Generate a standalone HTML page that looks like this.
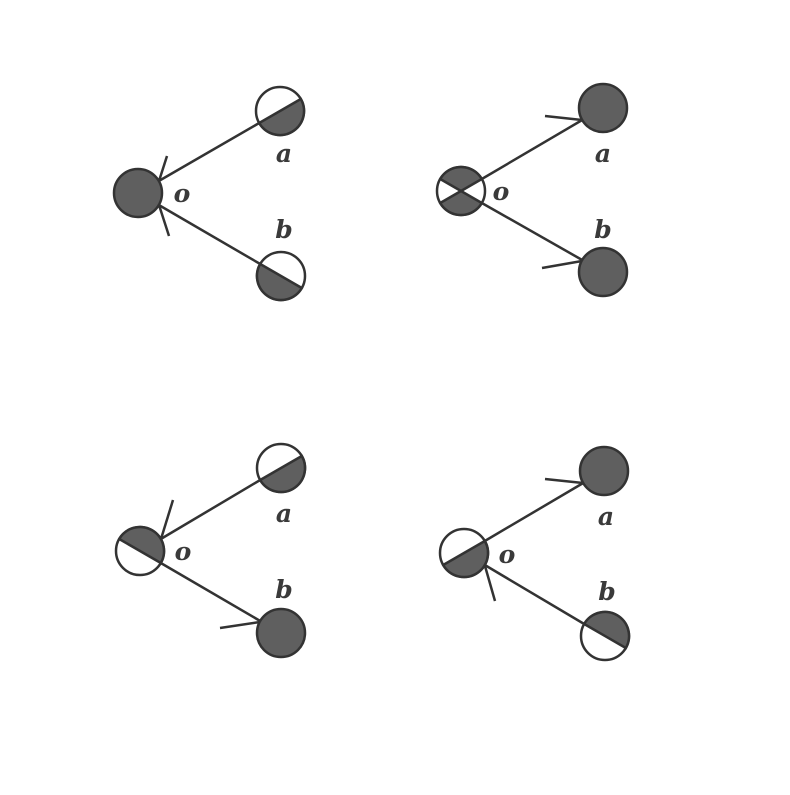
<!DOCTYPE html>
<html><head><style>html,body{margin:0;padding:0;background:#fff}</style></head><body>
<svg width="790" height="790" viewBox="0 0 790 790" xmlns="http://www.w3.org/2000/svg">
<g stroke="#333" stroke-width="2.5" fill="none">
<!-- TL -->
<line x1="158.8" y1="181" x2="259.2" y2="123"/>
<line x1="158.8" y1="205" x2="260.2" y2="264"/>
<line x1="159" y1="181" x2="167" y2="156"/>
<line x1="159" y1="205" x2="169" y2="236"/>
<circle cx="138" cy="193" r="24" fill="#5f5f5f"/>
<circle cx="280" cy="111" r="24" fill="#fff"/>
<path d="M300.8 99 A24 24 0 0 1 259.2 123 Z" fill="#5f5f5f"/>
<circle cx="281" cy="276" r="24" fill="#fff"/>
<path d="M301.8 288 A24 24 0 0 1 260.2 264 Z" fill="#5f5f5f"/>
<!-- TR -->
<line x1="481.8" y1="179" x2="582.2" y2="120"/>
<line x1="481.8" y1="203" x2="582.2" y2="260"/>
<line x1="582" y1="120" x2="545" y2="116"/>
<line x1="582" y1="261" x2="542" y2="268"/>
<circle cx="461" cy="191" r="24" fill="#fff"/>
<path d="M461 191 L440.2 179 A24 24 0 0 1 481.8 179 Z" fill="#5f5f5f"/>
<path d="M461 191 L481.8 203 A24 24 0 0 1 440.2 203 Z" fill="#5f5f5f"/>
<circle cx="603" cy="108" r="24" fill="#5f5f5f"/>
<circle cx="603" cy="272" r="24" fill="#5f5f5f"/>
<!-- BL -->
<line x1="160.8" y1="539" x2="260.2" y2="480"/>
<line x1="160.8" y1="563" x2="260.2" y2="621"/>
<line x1="161" y1="539" x2="173" y2="500"/>
<line x1="260" y1="622" x2="220" y2="628"/>
<circle cx="140" cy="551" r="24" fill="#fff"/>
<path d="M119.2 539 A24 24 0 0 1 160.8 563 Z" fill="#5f5f5f"/>
<circle cx="281" cy="468" r="24" fill="#fff"/>
<path d="M301.8 456 A24 24 0 0 1 260.2 480 Z" fill="#5f5f5f"/>
<circle cx="281" cy="633" r="24" fill="#5f5f5f"/>
<!-- BR -->
<line x1="484.8" y1="541" x2="583.2" y2="483"/>
<line x1="484.8" y1="565" x2="584.2" y2="624"/>
<line x1="583" y1="483" x2="545" y2="479"/>
<line x1="485" y1="566" x2="495" y2="601"/>
<circle cx="464" cy="553" r="24" fill="#fff"/>
<path d="M484.8 541 A24 24 0 0 1 443.2 565 Z" fill="#5f5f5f"/>
<circle cx="604" cy="471" r="24" fill="#5f5f5f"/>
<circle cx="605" cy="636" r="24" fill="#fff"/>
<path d="M584.2 624 A24 24 0 0 1 625.8 648 Z" fill="#5f5f5f"/>
</g>
<g font-family="DejaVu Serif, serif" font-style="italic" font-weight="bold" font-size="25" fill="#3a3a3a" text-anchor="middle">
<text x="284" y="162">a</text><text x="284" y="238">b</text><text x="182" y="202">o</text>
<text x="603" y="162">a</text><text x="603" y="238">b</text><text x="501" y="200">o</text>
<text x="284" y="522">a</text><text x="284" y="598">b</text><text x="183" y="560">o</text>
<text x="606" y="525">a</text><text x="607" y="600">b</text><text x="507" y="563">o</text>
</g>
</svg>
</body></html>
